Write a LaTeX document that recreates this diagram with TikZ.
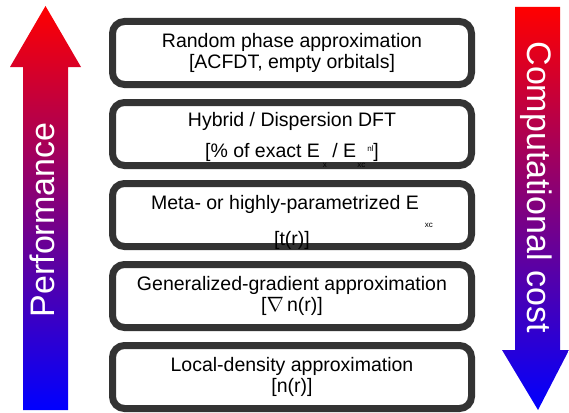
\documentclass[tikz,border=0pt]{standalone}
\usepackage{fontspec}
\setmainfont{Liberation Sans}
\usetikzlibrary{positioning}
\definecolor{boxgray}{HTML}{333333}
\definecolor{hotred}{HTML}{FF0000}
\definecolor{coldblue}{HTML}{0000FF}
\newcommand{\lowsub}[2][10pt]{\smash{\raisebox{-#1}{\fontsize{8}{8}\selectfont #2}}}
\newcommand{\highsup}[1]{\raisebox{6pt}{\fontsize{8}{8}\selectfont #1}}

\begin{document}
\begin{tikzpicture}[x=1pt,y=-1pt,
  level/.style={draw=boxgray,line width=7pt,rounded corners=12pt,fill=white,
    minimum width=359pt,minimum height=63pt,align=center,inner sep=0pt,
    font=\fontsize{19.5}{21.5}\selectfont},
  axislabel/.style={text=white,anchor=base,inner sep=0pt,
    font=\fontsize{34}{34}\selectfont}]
  \useasboundingbox (0,0) rectangle (569,412);
  \shade[top color=hotred,bottom color=coldblue] (45.5,6) -- (81,67) -- (68,67)
    -- (68,410) -- (23,410) -- (23,67) -- (10,67) -- cycle;
  \shade[top color=hotred,bottom color=coldblue] (515,7) -- (560,7) -- (560,350)
    -- (569,350) -- (538,410) -- (502,350) -- (515,350) -- cycle;
  \node[axislabel,rotate=90] (perf) at (54,220) {Performance};
  \node[axislabel,rotate=-90] (cost) at (527,187) {Computational cost};
  \node[level] (rpa) at (292,53) {Random phase approximation\\{[}ACFDT, empty orbitals{]}};
  \node[level,below=11pt of rpa,text height=46pt,text depth=0pt] (hybrid) {Hybrid / Dispersion DFT\\[9.5pt]
    {[}\% of exact E\hspace{3pt}\lowsub{x} / E\hspace{1pt}\lowsub{xc}\hspace{2pt}\highsup{nl}{]}};
  \node[level,below=11pt of hybrid,text height=60pt,text depth=0pt] (meta) {Meta- or highly-parametrized E\hspace{6pt}\lowsub[18pt]{xc}\\[14.5pt]
    {[}t(r){]}};
  \node[level,below=11pt of meta] (gga) {Generalized-gradient approximation\\{[}$\nabla$\,n(r){]}};
  \node[level,below=11pt of gga] (lda) {Local-density approximation\\{[}n(r){]}};
\end{tikzpicture}
\end{document}
